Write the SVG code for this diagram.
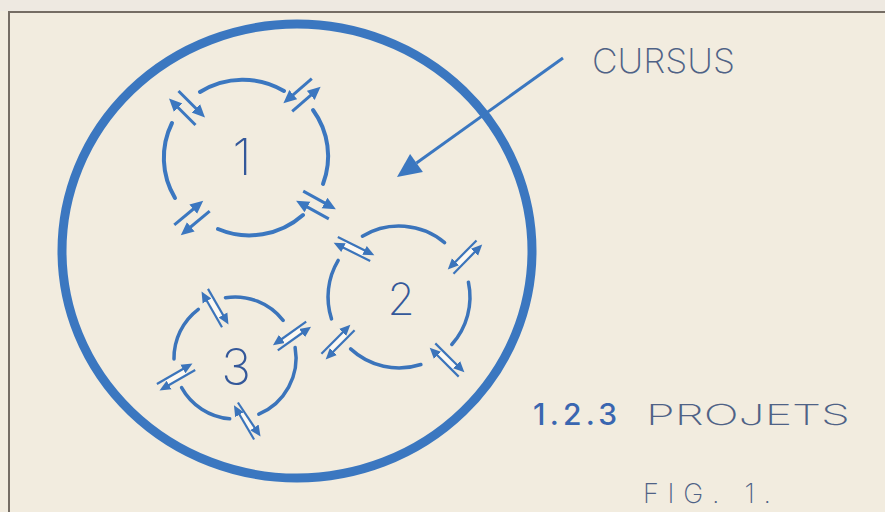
<svg xmlns="http://www.w3.org/2000/svg" width="885" height="512" viewBox="0 0 885 512">
<style>
.bg{fill:#f2ecdf}
.frame{fill:none;stroke:#756d64;stroke-width:2}
.big{fill:none;stroke:#3b77c0;stroke-width:9}
.arc1{fill:none;stroke:#3b77c0;stroke-width:4;stroke-linecap:round}
.arc{fill:none;stroke:#3b74bb;stroke-width:3.5;stroke-linecap:round}
.a1{stroke:#3b77c0;stroke-width:3;marker-end:url(#head1)}
.a2{stroke:#3b74bb;stroke-width:2.2;marker-end:url(#head2)}
.hol{stroke:#fcf9f3;stroke-width:5}
.num{font-family:Inter,Roboto,"DejaVu Sans",sans-serif;font-weight:200;fill:#34589a}
.hand{font-family:Inter,Roboto,"DejaVu Sans",sans-serif;font-weight:200;fill:#4f6286}
.ptr{stroke:#3b77c0;stroke-width:3;fill:none}
</style>
<defs>
<marker id="head1" viewBox="0 -7 14 14" refX="1" refY="0" markerWidth="14" markerHeight="14" markerUnits="userSpaceOnUse" orient="auto">
<path d="M0,-6 L13,0 L0,6 z" fill="#3b77c0"/>
</marker>
<marker id="head2" viewBox="0 -6 12 12" refX="1" refY="0" markerWidth="12" markerHeight="12" markerUnits="userSpaceOnUse" orient="auto">
<path d="M0,-5 L11,0 L0,5 z" fill="#3b74bb"/>
</marker>
</defs>
<rect class="bg" x="0" y="0" width="885" height="512"/>
<rect x="0" y="0" width="885" height="11" fill="#eee9e1"/>
<path class="frame" d="M9,514 L9,12 L887,12"/>

<g id="cursus">
<ellipse class="big" cx="297" cy="251" rx="235" ry="227"/>
</g>

<g id="project-1">
<path class="arc1" d="M200,92 A80,79 0 0 1 284,91"/>
<path class="arc1" d="M313,110 A80,79 0 0 1 323,184"/>
<path class="arc1" d="M303,215 A80,79 0 0 1 218,229"/>
<path class="arc1" d="M175,198 A80,79 0 0 1 172,123"/>
<line class="a1" x1="195.5" y1="125" x2="177.5" y2="107"/>
<line class="a1" x1="178.5" y1="91" x2="196.5" y2="109"/>
<line class="a1" x1="292.2" y1="111.3" x2="311.5" y2="94.7"/>
<line class="a1" x1="311.8" y1="78.7" x2="292.5" y2="95.3"/>
<line class="a1" x1="303.2" y1="191.1" x2="325.4" y2="203.4"/>
<line class="a1" x1="328.8" y1="218.9" x2="306.6" y2="206.6"/>
<line class="a1" x1="209.7" y1="211.1" x2="190" y2="227.5"/>
<line class="a1" x1="174.3" y1="224.9" x2="194" y2="208.5"/>
<text class="num" x="242" y="175" font-size="50" text-anchor="middle">1</text>
</g>

<g id="project-2">
<path class="arc" d="M362.4,236.2 A71,71 0 0 1 444.6,242.6"/>
<path class="arc" d="M468.4,282.2 A71,71 0 0 1 451.8,344.5"/>
<path class="arc" d="M420.9,364.5 A71,71 0 0 1 350.6,348.9"/>
<path class="arc" d="M331.5,318.9 A71,71 0 0 1 338.2,260.4"/>
<line class="hol" x1="344.2" y1="244.05" x2="363.8" y2="253.95"/>
<line class="hol" x1="472.7" y1="249.2" x2="457.3" y2="264.8"/>
<line class="hol" x1="454.8" y1="367.8" x2="439.2" y2="352.2"/>
<line class="hol" x1="330.2" y1="349.8" x2="345.8" y2="334.2"/>
<line class="a2" x1="370.2" y1="261.1" x2="342.6" y2="247.2"/>
<line class="a2" x1="337.8" y1="236.9" x2="365.4" y2="250.8"/>
<line class="a2" x1="453.5" y1="273.7" x2="475.2" y2="251.6"/>
<line class="a2" x1="476.5" y1="240.4" x2="454.8" y2="262.4"/>
<line class="a2" x1="435.3" y1="343.4" x2="457.3" y2="365.3"/>
<line class="a2" x1="458.7" y1="376.6" x2="436.8" y2="354.7"/>
<line class="a2" x1="354.6" y1="330.3" x2="332.7" y2="352.3"/>
<line class="a2" x1="321.4" y1="353.7" x2="343.3" y2="331.8"/>
<text class="num" x="401" y="315" font-size="44" text-anchor="middle">2</text>
</g>

<g id="project-3">
<path class="arc" d="M225.5,297.7 A61,61 0 0 1 283.1,320.4"/>
<path class="arc" d="M295.1,347.4 A61,61 0 0 1 258.8,414.2"/>
<path class="arc" d="M229.7,418.8 A61,61 0 0 1 181.6,387.6"/>
<path class="arc" d="M174,359 A61,61 0 0 1 198.3,309.3"/>
<line class="hol" x1="209.5" y1="298.4" x2="220.5" y2="317.6"/>
<line class="hol" x1="300.9" y1="329.6" x2="283.1" y2="342.4"/>
<line class="hol" x1="166.4" y1="382.5" x2="185.6" y2="371.5"/>
<line class="hol" x1="252.1" y1="430.1" x2="240" y2="411.9"/>
<line class="a2" x1="222" y1="327.2" x2="206.5" y2="300.2"/>
<line class="a2" x1="208" y1="288.9" x2="223.5" y2="315.8"/>
<line class="a2" x1="277.8" y1="350.4" x2="302.9" y2="332.5"/>
<line class="a2" x1="306.2" y1="321.6" x2="281.1" y2="339.5"/>
<line class="a2" x1="195.2" y1="370" x2="168.2" y2="385.5"/>
<line class="a2" x1="156.9" y1="384" x2="183.8" y2="368.5"/>
<line class="a2" x1="237.9" y1="402.5" x2="255" y2="428.2"/>
<line class="a2" x1="254.1" y1="439.5" x2="239" y2="413.8"/>
<text class="num" x="236" y="385" font-size="50" text-anchor="middle">3</text>
</g>

<g id="label-cursus">
<text class="hand" x="592" y="73" font-size="34" textLength="143" lengthAdjust="spacingAndGlyphs">CURSUS</text>
</g>

<g id="connectors">
<line class="ptr" x1="563" y1="58" x2="416.5" y2="163"/>
<polygon points="397,177 422.9,172 410.1,154" fill="#3b77c0"/>
</g>

<g id="legend">
<text x="533" y="425" font-size="30" font-family="Inter,Roboto,'DejaVu Sans',sans-serif" font-weight="500" fill="#3a66b0" textLength="84" lengthAdjust="spacing">1.2.3</text>
<text class="hand" x="646" y="425" font-size="29" textLength="204" lengthAdjust="spacingAndGlyphs">PROJETS</text>
<text class="hand" x="643" y="503" font-size="27" textLength="128" lengthAdjust="spacing">FIG. 1.</text>
</g>
</svg>
